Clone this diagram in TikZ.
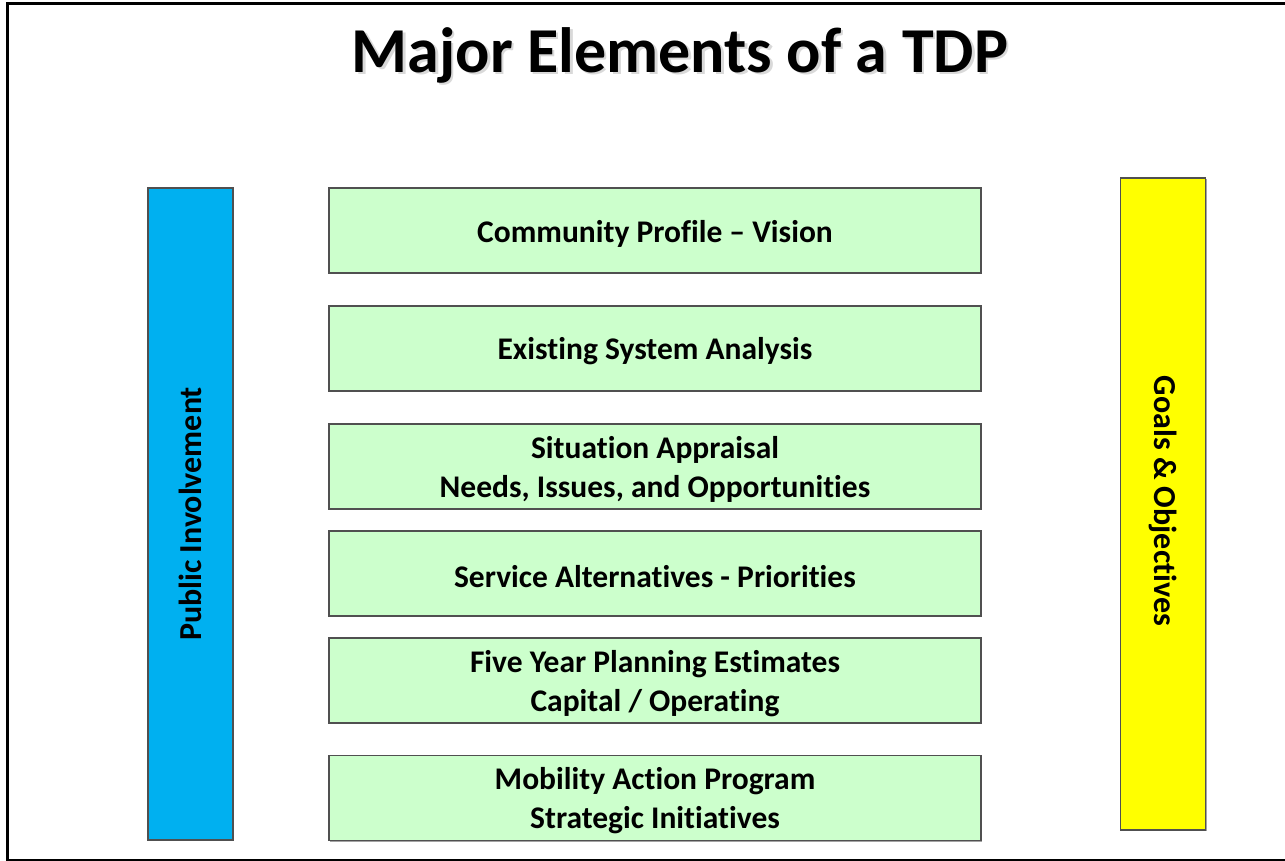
\documentclass[tikz,border=0pt]{standalone}
\usepackage{fontspec}
\setmainfont{Carlito}[Ligatures={NoCommon}]
\usetikzlibrary{shadows}
\definecolor{stepgreen}{HTML}{CCFFCC}
\definecolor{pubblue}{HTML}{00B0F0}
\definecolor{goalyellow}{HTML}{FFFF00}
\definecolor{edgegray}{HTML}{505050}
\definecolor{baseline}{HTML}{ECE9D8}
\tikzset{
  boxshadow/.style={drop shadow={shadow xshift=1.2pt, shadow yshift=-1.2pt, fill=black!45, opacity=0.8}},
  elembox/.style={draw=edgegray, line width=1.2pt, fill=stepgreen,
    minimum width=652pt, minimum height=85pt, inner sep=0pt, boxshadow},
  elemtext/.style={align=center, inner sep=0pt, font=\fontsize{31.5}{39}\selectfont\bfseries},
  sidebar/.style={draw=edgegray, line width=1.2pt,
    minimum width=85pt, minimum height=652pt, inner sep=0pt, boxshadow},
  sidetext/.style={font=\fontsize{32}{38}\selectfont\bfseries},
}
\begin{document}
\begin{tikzpicture}[x=1pt,y=-1pt]
  \useasboundingbox (0,0) rectangle (1285,861);
  % page frame
  \draw[baseline, line width=2pt] (8,860) -- (1285,860);
  \draw[black, line width=3pt] (7,861) -- (7,4) -- (1285,4);

  % title with soft shadow
  \node[text=black!25, opacity=0.6, font=\fontsize{64}{70}\selectfont\bfseries] (titleshadow) at (682.5,57.5) {Major Elements of a TDP};
  \node[font=\fontsize{64}{70}\selectfont\bfseries] (title) at (680,55) {Major Elements of a TDP};

  % side bars
  \node[sidebar, fill=pubblue] (public) at (190.5,514) {};
  \node[sidetext, rotate=90] (publictext) at (public.center) {Public Involvement};
  \node[sidebar, fill=goalyellow] (goals) at (1163,504) {};
  \node[sidetext, rotate=-90] (goalstext) at ([yshift=3pt]goals.center) {Goals \& Objectives};

  % plan elements
  \node[elembox] (e1) at (655,230.5) {};
  \node[elembox] (e2) at (655,348.5) {};
  \node[elembox] (e3) at (655,466.5) {};
  \node[elembox] (e4) at (655,573.5) {};
  \node[elembox] (e5) at (655,680.5) {};
  \node[elembox] (e6) at (655,798) {};
  \node[elemtext] (e1t) at ([yshift=-3pt]e1.center) {Community Profile -- Vision};
  \node[elemtext] (e2t) at ([yshift=-3pt]e2.center) {Existing System Analysis};
  \node[elemtext] (e3t) at ([yshift=-3pt]e3.center) {Situation Appraisal\\Needs, Issues, and Opportunities};
  \node[elemtext] (e4t) at ([yshift=-3pt]e4.center) {Service Alternatives - Priorities};
  \node[elemtext] (e5t) at ([yshift=-3pt]e5.center) {Five Year Planning Estimates\\Capital / Operating};
  \node[elemtext] (e6t) at ([yshift=-3pt]e6.center) {Mobility Action Program\\Strategic Initiatives};
\end{tikzpicture}
\end{document}
